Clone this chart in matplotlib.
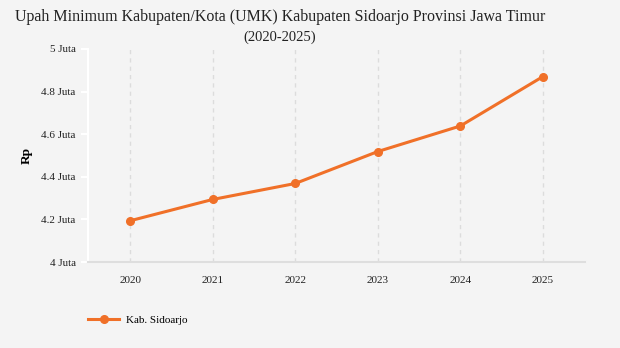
import matplotlib
matplotlib.use("Agg")
import matplotlib.pyplot as plt

years = [2020, 2021, 2022, 2023, 2024, 2025]
umk = [4193581, 4293581, 4368581, 4518581, 4638582, 4870511]
yticks = [4.0, 4.2, 4.4, 4.6, 4.8, 5.0]
ytick_labels = ["4 Juta", "4.2 Juta", "4.4 Juta", "4.6 Juta", "4.8 Juta", "5 Juta"]
series_name = "Kab. Sidoarjo"
title = "Upah Minimum Kabupaten/Kota (UMK) Kabupaten Sidoarjo Provinsi Jawa Timur"
subtitle = "(2020-2025)"

bg = "#f4f4f4"
orange = "#f07028"

fig = plt.figure(figsize=(6.2, 3.48), dpi=100, facecolor=bg)
ax = fig.add_axes([88/620, 1-262/348, (585-88)/620, (262-49)/348], facecolor=bg)

vals = [v/1e6 for v in umk]
ax.plot(years, vals, color=orange, lw=2.2, marker="o", ms=5.5, label=series_name, zorder=3)

ax.set_xlim(2019.49, 2025.51)
ax.set_ylim(4.0, 5.0)
ax.set_xticks(years)
ax.set_xticklabels([str(y) for y in years], fontfamily="Liberation Serif", fontsize=8, color="#222222")
ax.set_yticks(yticks)
ax.set_yticklabels(ytick_labels, fontfamily="Liberation Serif", fontsize=8, color="#222222")
ax.tick_params(axis="y", length=5, color="white", width=1.5, pad=4)
ax.tick_params(axis="x", length=0, pad=10)
for x in years:
    ax.axvline(x, color="#dcdcdc", lw=1, ls=(0, (3, 3)), zorder=1)
for s in ["top", "right"]:
    ax.spines[s].set_visible(False)
ax.spines["left"].set_color("white")
ax.spines["left"].set_linewidth(1.5)
ax.spines["bottom"].set_color("#dedede")
ax.spines["bottom"].set_linewidth(1.5)
ax.set_ylabel("Rp", fontfamily="Liberation Serif", fontsize=9.5, fontweight="bold", labelpad=6)

fig.text(280/620, 1-17/348, title, ha="center", va="center", fontfamily="Liberation Serif", fontsize=11.5, color="#222222")
fig.text(280/620, 1-37/348, subtitle, ha="center", va="center", fontfamily="Liberation Serif", fontsize=10.5, color="#222222")

leg = fig.legend(loc="center left", bbox_to_anchor=(78/620, 1-320/348), frameon=False,
                 prop={"family": "Liberation Serif", "size": 8}, handlelength=2.8, handletextpad=0.6)
fig.savefig("out.png", dpi=100, facecolor=bg)
